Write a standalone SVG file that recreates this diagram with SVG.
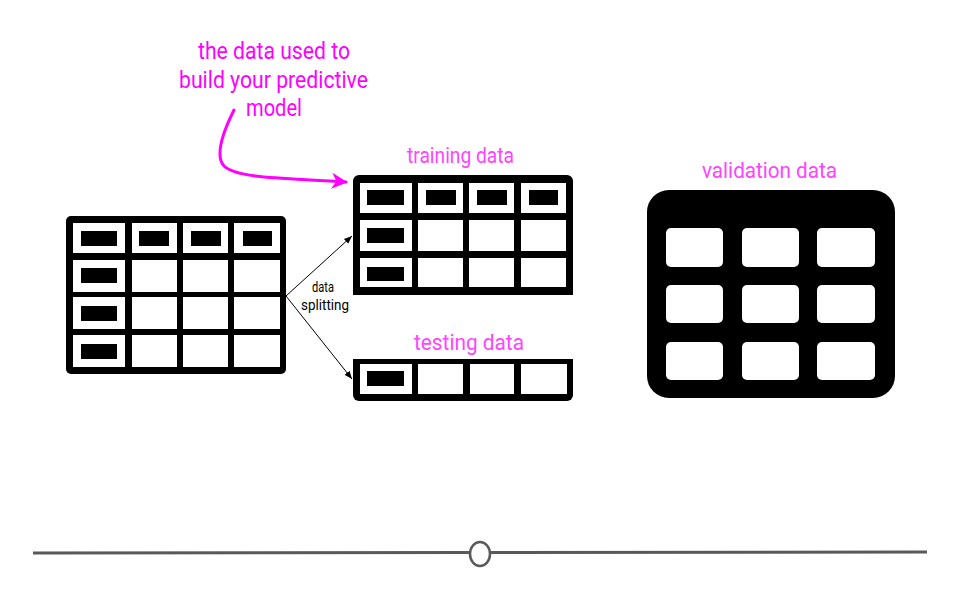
<svg xmlns="http://www.w3.org/2000/svg" width="960" height="600" viewBox="0 0 960 600">
<defs>
<style>
.frame{fill:#000}
.cell{fill:#fff}
.bar{fill:#000}
.vcell{fill:#fff}
.title{font-family:Roboto,"Liberation Sans",sans-serif;font-size:23px;fill:#ff00ff}
.label{font-family:Roboto,"Liberation Sans",sans-serif;font-size:22px;fill:#ff44ff}
.note{font-family:Roboto,"Liberation Sans",sans-serif;font-size:15px;fill:#000}
.conn{stroke:#000;stroke-width:1;fill:none}
</style>
<marker id="ah" viewBox="0 0 10 10" refX="10" refY="5" markerWidth="8" markerHeight="8" markerUnits="userSpaceOnUse" orient="auto">
<path d="M0,1 L10,5 L0,9 Z" fill="#000"/>
</marker>
<marker id="ahm" viewBox="0 0 10 10" refX="9" refY="5" markerWidth="16" markerHeight="16" markerUnits="userSpaceOnUse" orient="auto">
<path d="M0,0 L10,5 L0,10 L3,5 Z" fill="#ff00ff"/>
</marker>
</defs>
<rect width="960" height="600" fill="#fff"/>

<g id="note-title">
<text class="title" x="274" y="59" text-anchor="middle" textLength="152" lengthAdjust="spacingAndGlyphs">the data used to</text>
<text class="title" x="273.5" y="88" text-anchor="middle" textLength="189" lengthAdjust="spacingAndGlyphs">build your predictive</text>
<text class="title" x="274" y="116" text-anchor="middle" textLength="56" lengthAdjust="spacingAndGlyphs">model</text>
</g>

<g id="full-table">
<rect class="frame" x="66" y="216" width="220" height="158" rx="5"/>
<rect class="cell" x="73" y="223" width="52" height="30"/>
<rect class="cell" x="132" y="223" width="45" height="30"/>
<rect class="cell" x="183" y="223" width="45" height="30"/>
<rect class="cell" x="234" y="223" width="46" height="30"/>
<rect class="cell" x="73" y="260" width="52" height="32"/>
<rect class="cell" x="132" y="260" width="45" height="32"/>
<rect class="cell" x="183" y="260" width="45" height="32"/>
<rect class="cell" x="234" y="260" width="46" height="32"/>
<rect class="cell" x="73" y="297" width="52" height="32"/>
<rect class="cell" x="132" y="297" width="45" height="32"/>
<rect class="cell" x="183" y="297" width="45" height="32"/>
<rect class="cell" x="234" y="297" width="46" height="32"/>
<rect class="cell" x="73" y="335" width="52" height="32"/>
<rect class="cell" x="132" y="335" width="45" height="32"/>
<rect class="cell" x="183" y="335" width="45" height="32"/>
<rect class="cell" x="234" y="335" width="46" height="32"/>
<rect class="bar" x="81" y="231" width="36" height="15"/>
<rect class="bar" x="139" y="231" width="30" height="15"/>
<rect class="bar" x="191" y="231" width="30" height="15"/>
<rect class="bar" x="243" y="231" width="29" height="15"/>
<rect class="bar" x="81" y="268" width="36" height="15"/>
<rect class="bar" x="81" y="306" width="36" height="15"/>
<rect class="bar" x="81" y="344" width="36" height="15"/>
</g>

<g id="training-data">
<text class="label" x="460.5" y="163" text-anchor="middle" textLength="107" lengthAdjust="spacingAndGlyphs">training data</text>
<path class="frame" d="M353,295 V181 a6,6 0 0 1 6,-6 H567 a6,6 0 0 1 6,6 V295 Z"/>
<rect class="cell" x="360" y="183" width="52" height="30"/>
<rect class="cell" x="418" y="183" width="45" height="30"/>
<rect class="cell" x="469" y="183" width="45" height="30"/>
<rect class="cell" x="521" y="183" width="45" height="30"/>
<rect class="cell" x="360" y="220" width="52" height="31"/>
<rect class="cell" x="418" y="220" width="45" height="31"/>
<rect class="cell" x="469" y="220" width="45" height="31"/>
<rect class="cell" x="521" y="220" width="45" height="31"/>
<rect class="cell" x="360" y="258" width="52" height="29"/>
<rect class="cell" x="418" y="258" width="45" height="29"/>
<rect class="cell" x="469" y="258" width="45" height="29"/>
<rect class="cell" x="521" y="258" width="45" height="29"/>
<rect class="bar" x="367" y="190" width="37" height="15"/>
<rect class="bar" x="426" y="190" width="30" height="15"/>
<rect class="bar" x="477" y="190" width="30" height="15"/>
<rect class="bar" x="529" y="190" width="29" height="15"/>
<rect class="bar" x="367" y="228" width="37" height="15"/>
<rect class="bar" x="367" y="267" width="37" height="14"/>
</g>

<g id="testing-data">
<text class="label" x="469" y="350" text-anchor="middle" textLength="110" lengthAdjust="spacingAndGlyphs">testing data</text>
<path class="frame" d="M353,359 H573 V395 a6,6 0 0 1 -6,6 H359 a6,6 0 0 1 -6,-6 Z"/>
<rect class="cell" x="360" y="364" width="52" height="30"/>
<rect class="cell" x="418" y="364" width="45" height="30"/>
<rect class="cell" x="470" y="364" width="44" height="30"/>
<rect class="cell" x="521" y="364" width="46" height="30"/>
<rect class="bar" x="367" y="371" width="37" height="15"/>
</g>

<g id="validation-data">
<text class="label" x="769.5" y="178" text-anchor="middle" textLength="135" lengthAdjust="spacingAndGlyphs">validation data</text>
<rect class="frame" x="647" y="190" width="248" height="208" rx="22"/>
<rect class="vcell" x="666" y="228" width="57" height="39" rx="5"/>
<rect class="vcell" x="742" y="228" width="57" height="39" rx="5"/>
<rect class="vcell" x="817" y="228" width="58" height="39" rx="5"/>
<rect class="vcell" x="666" y="285" width="57" height="38" rx="5"/>
<rect class="vcell" x="742" y="285" width="57" height="38" rx="5"/>
<rect class="vcell" x="817" y="285" width="58" height="38" rx="5"/>
<rect class="vcell" x="666" y="342" width="57" height="38" rx="5"/>
<rect class="vcell" x="742" y="342" width="57" height="38" rx="5"/>
<rect class="vcell" x="817" y="342" width="58" height="38" rx="5"/>
</g>

<g id="split-label">
<text class="note" x="323" y="292" text-anchor="middle" textLength="22" lengthAdjust="spacingAndGlyphs">data</text>
<text class="note" x="325" y="310" text-anchor="middle" textLength="48" lengthAdjust="spacingAndGlyphs">splitting</text>
</g>

<g id="connectors">
<line class="conn" x1="286" y1="296" x2="352" y2="236" marker-end="url(#ah)"/>
<line class="conn" x1="286" y1="296" x2="352" y2="379" marker-end="url(#ah)"/>
<path d="M234,110 C224,130 214,155 224,166 C238,180 300,178 346,182" fill="none" stroke="#ff00ff" stroke-width="3" stroke-linecap="round" marker-end="url(#ahm)"/>
</g>

<g id="timeline">
<line x1="33" y1="553" x2="469" y2="552.5" stroke="#595959" stroke-width="3"/>
<line x1="491" y1="552.5" x2="927" y2="552" stroke="#595959" stroke-width="3"/>
<ellipse cx="480" cy="554" rx="10" ry="12" fill="#fff" stroke="#595959" stroke-width="2.5"/>
</g>
</svg>
